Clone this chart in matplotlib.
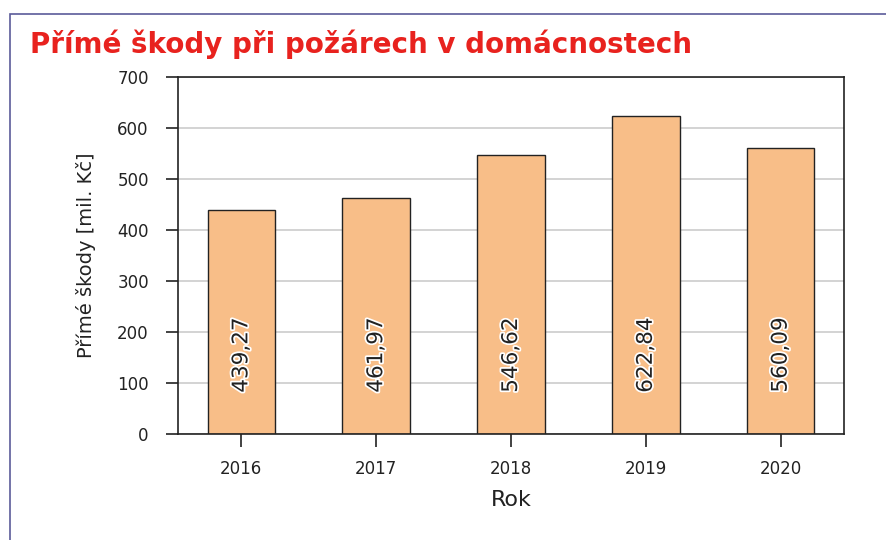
import numpy as np
import matplotlib
matplotlib.use('Agg')
import matplotlib.pyplot as plt
import matplotlib.patheffects as pe
from matplotlib.patches import Rectangle

plt.rcParams['font.family'] = ['DejaVu Sans']

# data
years = ['2016', '2017', '2018', '2019', '2020']
damages = [439.27, 461.97, 546.62, 622.84, 560.09]
damage_labels = ['439,27', '461,97', '546,62', '622,84', '560,09']

fig = plt.figure(figsize=(8.86, 5.4), dpi=100)
ax = fig.add_axes([178 / 886, 1 - 434 / 540, (844 - 178) / 886, (434 - 77) / 540])

# frame around the whole chart (right and bottom edges are cut off)
fig.patches.append(Rectangle((10 / 886, -0.1), 1.2, 1 - 14 / 540 + 0.1,
                             transform=fig.transFigure, fill=False,
                             edgecolor='#5b5b9a', linewidth=1.2))

x = np.arange(len(years))
ax.bar(x, damages, width=0.5, color='#f8be88', edgecolor='#222222', linewidth=1.0, zorder=2)
for xi, lab in zip(x, damage_labels):
    ax.text(xi, 155, lab, rotation=90, ha='center', va='center', fontsize=15.5,
            color='#222222', zorder=3,
            path_effects=[pe.withStroke(linewidth=2.5, foreground='white')])

ax.set_xlim(-0.47, 4.47)
ax.set_ylim(0, 700)
ax.set_yticks(range(0, 701, 100))
ax.set_xticks(x)
ax.set_xticklabels(years)
ax.yaxis.grid(True, color='#cccccc', linewidth=1.2, zorder=0)
ax.set_axisbelow(True)
ax.tick_params(axis='both', length=9, width=1.2, labelsize=12, colors='#222222')
ax.tick_params(axis='y', pad=12)
ax.tick_params(axis='x', pad=10)
for s in ax.spines.values():
    s.set_linewidth(1.2)
    s.set_color('#222222')

ax.set_ylabel('Přímé škody [mil. Kč]', fontsize=14, color='#222222', labelpad=15)
ax.set_xlabel('Rok', fontsize=16, color='#222222', labelpad=8)

fig.text(30 / 886, 1 - 53 / 540, 'Přímé škody při požárech v domácnostech',
         fontsize=20, fontweight='bold', color='#e8221e', ha='left', va='baseline')

fig.savefig('out.png', dpi=100)
